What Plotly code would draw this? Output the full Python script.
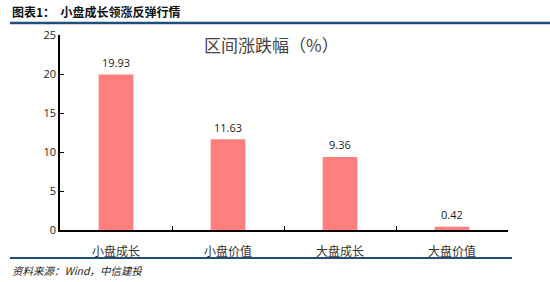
import plotly.graph_objects as go

categories = ["小盘成长", "小盘价值", "大盘成长", "大盘价值"]
values = [19.93, 11.63, 9.36, 0.42]
y_ticks = [0, 5, 10, 15, 20, 25]

fig = go.Figure()
fig.add_trace(go.Bar(
    x=categories, y=values,
    marker=dict(color="#FF7F7F", line=dict(width=0)),
    cliponaxis=False, width=0.31,
))

for c, v in zip(categories, values):
    fig.add_annotation(x=c, y=v, text=f"{v:.2f}", showarrow=False,
                       xref="x", yref="y", yanchor="middle", yshift=12,
                       font=dict(size=11, color="#222", family="Open Sans, DejaVu Sans"))

fig.update_layout(
    width=550, height=282,
    margin=dict(l=60, r=42, t=35, b=52),
    paper_bgcolor="white", plot_bgcolor="white",
    showlegend=False,
    font=dict(family="Noto Sans CJK SC", size=11, color="#222"),
    xaxis=dict(showline=True, linecolor="black", linewidth=1.5, ticks="inside",
               tickson="boundaries", ticklen=4, tickcolor="black", tickwidth=1,
               ticklabelstandoff=10,
               tickfont=dict(size=12, color="#333", family="Noto Sans CJK SC"),
               showgrid=False, mirror=False),
    yaxis=dict(range=[0, 25], tickvals=y_ticks, showline=True, linecolor="black",
               linewidth=1.5, ticks="inside", ticklen=4, tickcolor="black",
               showgrid=False, zeroline=False,
               tickfont=dict(size=11, color="#222", family="Open Sans, DejaVu Sans")),
)

fig.add_annotation(text="区间涨跌幅（%）", xref="paper", yref="paper", x=0.473, y=0.95,
                   showarrow=False, font=dict(size=17, color="#444", family="Noto Sans CJK SC"),
                   xanchor="center", yanchor="middle")
fig.add_annotation(text="<b>图表1：  小盘成长领涨反弹行情</b>", xref="paper", yref="paper",
                   x=(10 - 60) / 448, y=(230 - 12) / 195, xanchor="left", yanchor="middle",
                   showarrow=False, font=dict(size=12, color="#111", family="Noto Sans CJK SC"))
fig.add_annotation(text="<i>资料来源：Wind，中信建投</i>", xref="paper", yref="paper",
                   x=(10 - 60) / 448, y=(230 - 270) / 195, xanchor="left", yanchor="middle",
                   showarrow=False, font=dict(size=10.5, color="#222", family="Noto Sans CJK SC"))

fig.add_shape(type="line", xref="paper", yref="paper",
              x0=(10 - 60) / 448, x1=(550 - 60) / 448, y0=(230 - 23) / 195, y1=(230 - 23) / 195,
              line=dict(color="#1F4E79", width=2.5))
fig.add_shape(type="line", xref="paper", yref="paper",
              x0=(10 - 60) / 448, x1=(512 - 60) / 448, y0=(230 - 258) / 195, y1=(230 - 258) / 195,
              line=dict(color="#1F4E79", width=2))

fig.write_html("out.html")
